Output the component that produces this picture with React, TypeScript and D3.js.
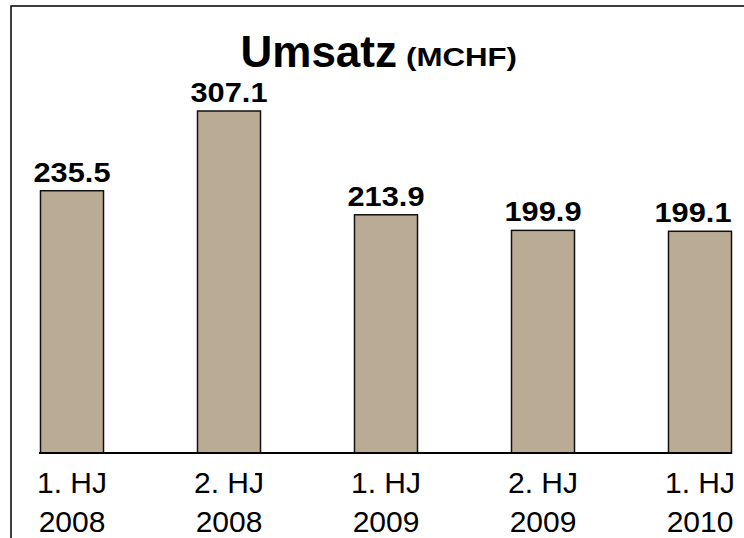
import { useEffect, useRef } from 'react';
import * as d3 from 'd3';

const periods = ['1. HJ', '2. HJ', '1. HJ', '2. HJ', '1. HJ'];
const years = ['2008', '2008', '2009', '2009', '2010'];
const sales = [235.5, 307.1, 213.9, 199.9, 199.1];

const App = () => {
  const svgRef = useRef<SVGSVGElement>(null);

  useEffect(() => {
    if (!svgRef.current) return;
    document.body.style.margin = '0';

    const width = 744;
    const height = 538;
    const font = '"Liberation Sans", Arial, sans-serif';
    const svg = d3.select(svgRef.current).attr('width', width).attr('height', height);
    svg.selectAll('*').remove();

    // frame (runs off the right and bottom edge)
    svg
      .append('rect')
      .attr('x', 11)
      .attr('y', 6)
      .attr('width', 760)
      .attr('height', 560)
      .attr('fill', '#fff')
      .attr('stroke', '#000')
      .attr('stroke-width', 1.5);

    const keys = sales.map((_, i) => i.toString());
    const x = d3.scalePoint().domain(keys).range([72, 700]);
    const y = d3.scaleLinear().domain([0, 307.1]).range([453, 111]);
    const barW = 63;

    svg
      .append('text')
      .attr('x', 397)
      .attr('y', 67)
      .attr('text-anchor', 'end')
      .attr('font-family', font)
      .attr('font-weight', 'bold')
      .attr('font-size', 44)
      .text('Umsatz');
    svg
      .append('text')
      .attr('x', 406)
      .attr('y', 66)
      .attr('font-family', font)
      .attr('font-weight', 'bold')
      .attr('font-size', 26)
      .attr('textLength', 111)
      .attr('lengthAdjust', 'spacingAndGlyphs')
      .text('(MCHF)');

    svg
      .selectAll('rect.bar')
      .data(sales)
      .join('rect')
      .attr('class', 'bar')
      .attr('x', (_, i) => x(i.toString())! - barW / 2)
      .attr('y', (d) => y(d))
      .attr('width', barW)
      .attr('height', (d) => y(0) - y(d))
      .attr('fill', '#baab95')
      .attr('stroke', '#111')
      .attr('stroke-width', 1.5);

    svg
      .append('line')
      .attr('x1', 39)
      .attr('x2', 732)
      .attr('y1', y(0))
      .attr('y2', y(0))
      .attr('stroke', '#000')
      .attr('stroke-width', 2);

    svg
      .selectAll('text.val')
      .data(sales)
      .join('text')
      .attr('class', 'val')
      .attr('x', (_, i) => Math.min(x(i.toString())!, 693))
      .attr('y', (d) => y(d) - 9)
      .attr('text-anchor', 'middle')
      .attr('font-family', font)
      .attr('font-weight', 'bold')
      .attr('font-size', 28)
      .attr('textLength', 77)
      .attr('lengthAdjust', 'spacingAndGlyphs')
      .text((d) => d.toFixed(1));

    const cats = svg
      .selectAll('text.cat')
      .data(keys)
      .join('text')
      .attr('class', 'cat')
      .attr('text-anchor', 'middle')
      .attr('font-family', font)
      .attr('font-size', 30);
    cats
      .append('tspan')
      .attr('x', (d) => x(d)!)
      .attr('y', 493)
      .text((_, i) => periods[i]);
    cats
      .append('tspan')
      .attr('x', (d) => x(d)!)
      .attr('y', 532)
      .text((_, i) => years[i]);
  }, []);

  return <svg ref={svgRef} style={{ display: 'block' }}></svg>;
};

export default App;
